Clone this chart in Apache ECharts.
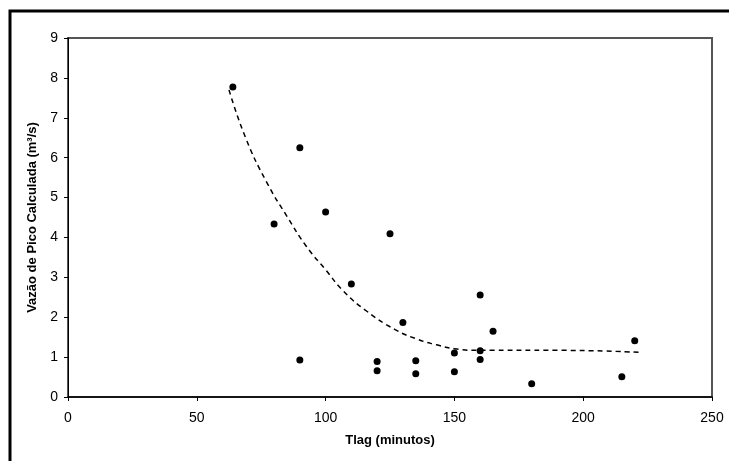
<!DOCTYPE html>
<html>
<head>
<meta charset="utf-8">
<script src="https://cdn.jsdelivr.net/npm/echarts@6/dist/echarts.min.js"></script>
<style>
html,body{margin:0;padding:0;background:#fff;}
#c{width:729px;height:461px;}
</style>
</head>
<body>
<div id="c"></div>
<script>
// Observed points (Tlag in minutes, calculated peak discharge m³/s)
var tlag = [64, 80, 90, 90, 100, 110, 120, 120, 125, 130, 135, 135, 150, 150, 160, 160, 160, 165, 180, 215, 220];
var vazao = [7.77, 4.34, 6.25, 0.93, 4.64, 2.83, 0.89, 0.66, 4.09, 1.87, 0.91, 0.58, 1.10, 0.63, 2.56, 1.16, 0.94, 1.65, 0.33, 0.51, 1.41];

// Trend curve
var trendX = [62.5, 69, 77, 85, 92.5, 100, 107, 116, 127, 136, 143, 150, 160, 190, 222];
var trendY = [7.70, 6.49, 5.40, 4.53, 3.78, 3.19, 2.65, 2.15, 1.69, 1.44, 1.31, 1.21, 1.17, 1.17, 1.12];

var xTicks = {min: 0, max: 250, interval: 50};
var yTicks = {min: 0, max: 9, interval: 1};
var xTitle = 'Tlag (minutos)';
var yTitle = 'Vazão de Pico Calculada (m³/s)';

var pts = tlag.map(function (x, i) { return [x, vazao[i]]; });
var trend = trendX.map(function (x, i) { return [x, trendY[i]]; });

var FONT = 'Liberation Sans, Arial, sans-serif';

var chart = echarts.init(document.getElementById('c'), null, {renderer: 'canvas'});
chart.setOption({
  backgroundColor: '#fff',
  animation: false,
  graphic: [{
    type: 'polyline',
    shape: {points: [[10, 470], [10, 11], [740, 11]]},
    style: {stroke: '#000', lineWidth: 3, fill: null}
  }],
  grid: {
    left: 68, top: 38, right: 17, bottom: 64,
    show: true, borderColor: '#555', borderWidth: 2, backgroundColor: '#fff'
  },
  xAxis: {
    type: 'value', min: xTicks.min, max: xTicks.max, interval: xTicks.interval,
    name: xTitle, nameLocation: 'middle', nameGap: 37,
    nameTextStyle: {fontFamily: FONT, fontWeight: 'bold', fontSize: 13, color: '#000'},
    axisLine: {show: true, lineStyle: {color: '#000', width: 1.5}},
    axisTick: {show: true, length: 4, lineStyle: {color: '#000'}},
    axisLabel: {color: '#000', fontFamily: FONT, fontSize: 14, margin: 14},
    splitLine: {show: false}
  },
  yAxis: {
    type: 'value', min: yTicks.min, max: yTicks.max, interval: yTicks.interval,
    name: yTitle, nameLocation: 'middle', nameGap: 29, nameRotate: 90,
    nameTextStyle: {fontFamily: FONT, fontWeight: 'bold', fontSize: 13, color: '#000'},
    axisLine: {show: true, lineStyle: {color: '#000', width: 1}},
    axisTick: {show: true, length: 4, lineStyle: {color: '#000'}},
    axisLabel: {color: '#000', fontFamily: FONT, fontSize: 14, margin: 10},
    splitLine: {show: false}
  },
  series: [{
    type: 'line',
    data: trend,
    smooth: true,
    showSymbol: false,
    symbol: 'none',
    lineStyle: {color: '#000', width: 1.5, type: [5, 4]},
    z: 2
  }, {
    type: 'scatter',
    data: pts,
    symbol: 'circle',
    symbolSize: 7,
    itemStyle: {color: '#000', opacity: 1},
    z: 3
  }]
});
</script>
</body>
</html>
